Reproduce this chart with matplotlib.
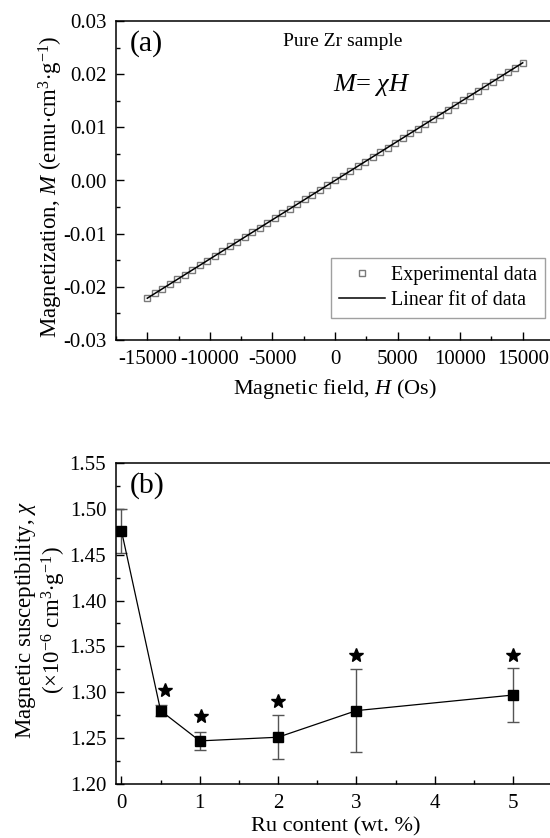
"""
Magnetization of pure Zr and magnetic susceptibility vs Ru content.
"""

import matplotlib
matplotlib.use('Agg')
import matplotlib.pyplot as plt
import numpy as np
from matplotlib.ticker import MultipleLocator, FormatStrFormatter

plt.rcParams['font.family'] = 'serif'
plt.rcParams['font.serif'] = ['Liberation Serif', 'DejaVu Serif']
plt.rcParams['mathtext.fontset'] = 'custom'
plt.rcParams['mathtext.rm'] = 'Liberation Serif'
plt.rcParams['mathtext.it'] = 'Liberation Serif:italic'
plt.rcParams['axes.unicode_minus'] = False

# ============================================================================
# Data
# ============================================================================

# (a) pure Zr, M-H measurement
field_H = [-15000, -14400, -13800, -13200, -12600, -12000, -11400, -10800,
           -10200, -9600, -9000, -8400, -7800, -7200, -6600, -6000, -5400,
           -4800, -4200, -3600, -3000, -2400, -1800, -1200, -600, 0,
           600, 1200, 1800, 2400, 3000, 3600, 4200, 4800, 5400, 6000, 6600,
           7200, 7800, 8400, 9000, 9600, 10200, 10800, 11400, 12000, 12600,
           13200, 13800, 14400, 15000]
magnet_M = [-0.02214, -0.02125, -0.02037, -0.01948, -0.01860, -0.01771,
            -0.01683, -0.01594, -0.01506, -0.01417, -0.01328, -0.01240,
            -0.01151, -0.01063, -0.00974, -0.00886, -0.00797, -0.00708,
            -0.00620, -0.00531, -0.00443, -0.00354, -0.00266, -0.00177,
            -0.00089, 0.00000,
            0.00089, 0.00177, 0.00266, 0.00354, 0.00443, 0.00531, 0.00620,
            0.00708, 0.00797, 0.00886, 0.00974, 0.01063, 0.01151, 0.01240,
            0.01328, 0.01417, 0.01506, 0.01594, 0.01683, 0.01771, 0.01860,
            0.01948, 0.02037, 0.02125, 0.02214]

# (b) susceptibility vs Ru content
ru_content = [0, 0.5, 1, 2, 3, 5]
chi = [1.476, 1.280, 1.247, 1.251, 1.280, 1.297]
chi_err = [0.024, 0.006, 0.010, 0.024, 0.045, 0.029]

# star markers above the points
star_x = [0.55, 1.01, 2.0, 3.0, 5.0]
star_y = [1.303, 1.274, 1.290, 1.341, 1.341]

# ============================================================================
# Figure
# ============================================================================

W, H = 550, 838
fig = plt.figure(figsize=(W / 100, H / 100), dpi=100)


def px_axes(left, top, right, bottom):
    return fig.add_axes([left / W, 1 - bottom / H, (right - left) / W,
                         (bottom - top) / H])


def style_axes(ax):
    for sp in ax.spines.values():
        sp.set_linewidth(1.1)
    ax.tick_params(which='both', direction='in', top=False, right=False,
                   labelsize=15, width=1.0)
    ax.tick_params(which='major', length=5.5, pad=7)
    ax.tick_params(which='minor', length=3)


# ---------------------------------------------------------------- panel (a)
ax1 = px_axes(116, 21, 554, 340)
style_axes(ax1)

ax1.plot(field_H, magnet_M, 's', ms=5, mfc='white', mec='#7a7a7a', mew=1.0,
         label='Experimental data', zorder=2)
slope, icpt = np.polyfit(field_H, magnet_M, 1)
fit_x = np.array([min(field_H), max(field_H)])
ax1.plot(fit_x, slope * fit_x + icpt, '-', color='black', lw=1.1,
         label='Linear fit of data', zorder=3)

ax1.set_xlim(-17500, 17500)
ax1.set_ylim(-0.03, 0.03)
ax1.xaxis.set_major_locator(MultipleLocator(5000))
ax1.xaxis.set_minor_locator(MultipleLocator(2500))
ax1.yaxis.set_major_locator(MultipleLocator(0.01))
ax1.yaxis.set_minor_locator(MultipleLocator(0.005))
ax1.yaxis.set_major_formatter(FormatStrFormatter('%.2f'))

ax1.set_xlabel(r'Magnetic field, $\mathit{H}$ (Os)', fontsize=16, labelpad=6)
ax1.set_ylabel(r'Magnetization, $\mathit{M}$ (emu$\cdot$cm$^{3}$$\cdot$g$^{-1}$)',
               fontsize=16.5)
ax1.yaxis.set_label_coords(-0.116, 0.48)

ax1.text(0.032, 0.93, '(a)', transform=ax1.transAxes, fontsize=21.5,
         ha='left', va='center')
ax1.text(0.518, 0.935, 'Pure Zr sample', transform=ax1.transAxes,
         fontsize=14, ha='center', va='center')
ax1.text(0.585, 0.80, r'$\mathit{M}$= $\chi\mathit{H}$',
         transform=ax1.transAxes, fontsize=19, ha='center', va='center')

leg = ax1.legend(loc='lower right', bbox_to_anchor=(0.979, 0.069),
                 borderaxespad=0, fontsize=14.4, frameon=True, fancybox=False,
                 edgecolor='#888888', handlelength=2.3, handletextpad=0.3,
                 labelspacing=0.3, borderpad=0.4)
leg.get_frame().set_linewidth(1.0)

# ---------------------------------------------------------------- panel (b)
ax2 = px_axes(116, 463, 556, 784)
style_axes(ax2)

ax2.errorbar(ru_content, chi, yerr=chi_err, fmt='none', ecolor='#555555',
             elinewidth=1.0, capsize=4, capthick=1.0, zorder=2)
ax2.plot(ru_content, chi, '-', color='black', lw=0.9, zorder=3)
ax2.plot(ru_content, chi, 's', ms=7, color='black', zorder=4)
ax2.plot(star_x, star_y, '*', ms=10, color='black', linestyle='none')

ax2.set_xlim(-0.07, 5.55)
ax2.set_ylim(1.20, 1.55)
ax2.xaxis.set_major_locator(MultipleLocator(1))
ax2.xaxis.set_minor_locator(MultipleLocator(0.5))
ax2.yaxis.set_major_locator(MultipleLocator(0.05))
ax2.yaxis.set_minor_locator(MultipleLocator(0.025))
ax2.yaxis.set_major_formatter(FormatStrFormatter('%.2f'))

ax2.set_xlabel('Ru content (wt. %)', fontsize=16, labelpad=3)
ax2.set_ylabel('Magnetic susceptibility, $\\chi$\n'
               '(\u00d710$^{-6}$ cm$^{3}$$\\cdot$g$^{-1}$)',
               fontsize=16.5, linespacing=1.05)
ax2.yaxis.set_label_coords(-0.11, 0.51)

ax2.text(0.032, 0.93, '(b)', transform=ax2.transAxes, fontsize=21.5,
         ha='left', va='center')

plt.savefig('out.png', dpi=100)
